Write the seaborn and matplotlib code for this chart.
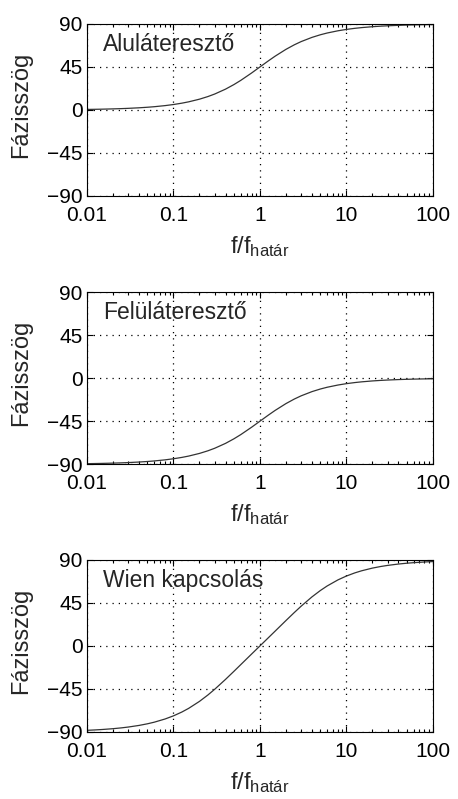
import numpy as np
import pandas as pd
import seaborn as sns
import matplotlib.pyplot as plt
from matplotlib.ticker import LogLocator, FixedLocator, FixedFormatter, NullFormatter

# frequency ratio f/f_hatar
freq = [0.01, 0.0125, 0.015, 0.02, 0.025, 0.03, 0.04, 0.05, 0.06, 0.08,
        0.1, 0.125, 0.15, 0.2, 0.25, 0.3, 0.4, 0.5, 0.6, 0.8,
        1.0, 1.25, 1.5, 2.0, 2.5, 3.0, 4.0, 5.0, 6.0, 8.0,
        10, 12.5, 15, 20, 25, 30, 40, 50, 60, 80, 100]

# phase in degrees, per panel
phase_low = [0.57, 0.72, 0.86, 1.15, 1.43, 1.72, 2.29, 2.86, 3.43, 4.57,
             5.71, 7.13, 8.53, 11.31, 14.04, 16.70, 21.80, 26.57, 30.96, 38.66,
             45.0, 51.34, 56.31, 63.43, 68.20, 71.57, 75.96, 78.69, 80.54, 82.87,
             84.29, 85.43, 86.19, 87.14, 87.71, 88.09, 88.57, 88.85, 89.05, 89.28, 89.43]
phase_high = [-89.43, -89.28, -89.14, -88.85, -88.57, -88.28, -87.71, -87.14, -86.57, -85.43,
              -84.29, -82.87, -81.47, -78.69, -75.96, -73.30, -68.20, -63.43, -59.04, -51.34,
              -45.0, -38.66, -33.69, -26.57, -21.80, -18.43, -14.04, -11.31, -9.46, -7.13,
              -5.71, -4.57, -3.81, -2.86, -2.29, -1.91, -1.43, -1.15, -0.95, -0.72, -0.57]
phase_wien = [-88.28, -87.85, -87.42, -86.57, -85.71, -84.85, -83.15, -81.45, -79.76, -76.42,
              -73.14, -69.15, -65.28, -57.99, -51.34, -45.31, -34.99, -26.57, -19.57, -8.53,
              0.0, 8.53, 15.52, 26.57, 34.99, 41.63, 51.34, 57.99, 62.78, 69.15,
              73.14, 76.42, 78.64, 81.45, 83.15, 84.28, 85.71, 86.57, 87.14, 87.85, 88.28]

titles = ['Aluláteresztő', 'Felüláteresztő', 'Wien kapcsolás']
yticks = [-90, -45, 0, 45, 90]
xticks = [0.01, 0.1, 1, 10, 100]
xticklabels = ['0.01', '0.1', '1', '10', '100']

sns.set_style('ticks')
plt.rcParams['font.family'] = ['Liberation Sans', 'DejaVu Sans']
plt.rcParams['mathtext.fontset'] = 'custom'
plt.rcParams['mathtext.rm'] = 'Liberation Sans'
plt.rcParams['mathtext.it'] = 'Liberation Sans:italic'

fig = plt.figure(figsize=(4.58, 7.99), dpi=100)
bottoms = [0.7547, 0.419, 0.0839]

for title, series, b in zip(titles, [phase_low, phase_high, phase_wien], bottoms):
    ax = fig.add_axes([0.19, b, 0.755, 0.2153])
    df = pd.DataFrame({'f': freq, 'phase': series})
    sns.lineplot(data=df, x='f', y='phase', ax=ax, color='#333333', linewidth=0.9)
    ax.set_xscale('log')
    ax.set_xlim(0.01, 100)
    ax.set_ylim(-90, 90)
    ax.xaxis.set_major_locator(FixedLocator(xticks))
    ax.xaxis.set_major_formatter(FixedFormatter(xticklabels))
    ax.xaxis.set_minor_locator(LogLocator(base=10, subs=np.arange(2, 10), numticks=20))
    ax.xaxis.set_minor_formatter(NullFormatter())
    ax.set_yticks(yticks)
    ax.grid(True, which='major', linestyle=(0, (1, 4)), color='black', linewidth=0.9)
    ax.tick_params(which='both', direction='in', top=True, right=True, labelsize=15,
                   colors='black', width=0.8)
    ax.tick_params(which='major', length=4)
    ax.tick_params(which='minor', length=2.5)
    ax.tick_params(axis='x', pad=7)
    ax.tick_params(axis='y', pad=3)
    for sp in ax.spines.values():
        sp.set_visible(True)
        sp.set_color('black')
        sp.set_linewidth(0.8)
    ax.set_ylabel('Fázisszög', fontsize=17)
    ax.yaxis.set_label_coords(-0.16, 0.53)
    ax.set_xlabel(r'f/f$_{\mathrm{határ}}$', fontsize=17)
    ax.xaxis.set_label_coords(0.5, -0.22)
    ax.text(0.046, 0.88, title, transform=ax.transAxes, fontsize=16.5, va='center', ha='left')

fig.savefig('out.png', dpi=100)
